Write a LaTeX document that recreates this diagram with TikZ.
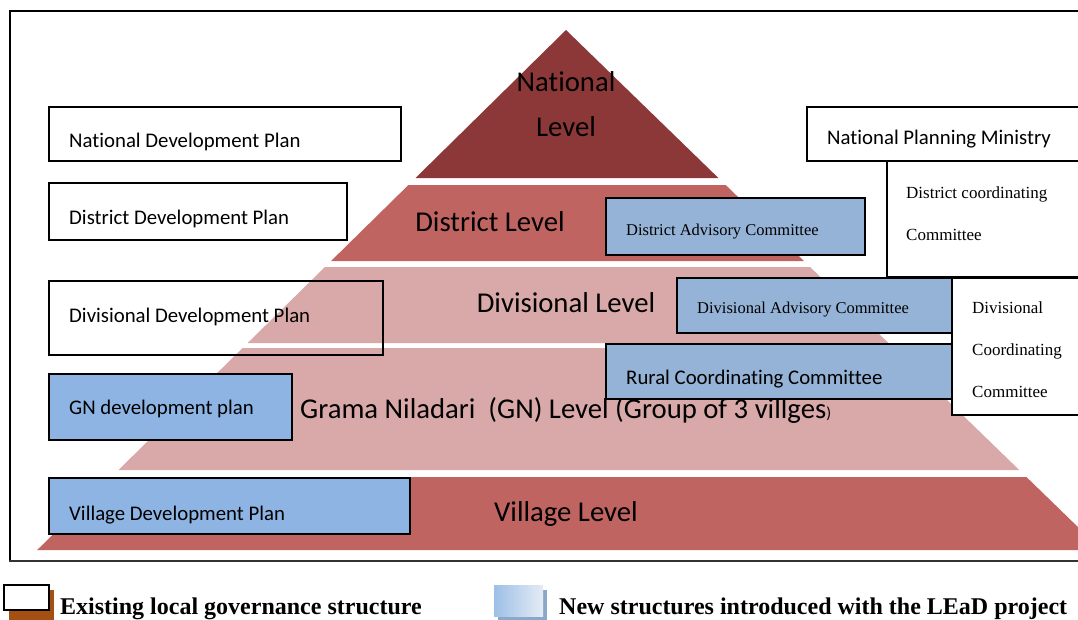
\documentclass[tikz,border=0pt]{standalone}
\usepackage{fontspec}
\setmainfont{Carlito}[RawFeature={-liga;-clig;-calt;-dlig}]
\newfontfamily\serifA{Liberation Serif}
\definecolor{natred}{RGB}{140,56,56}
\definecolor{disred}{RGB}{192,100,97}
\definecolor{pinkl}{RGB}{216,169,168}
\definecolor{blueA}{RGB}{141,180,226}
\definecolor{blueB}{RGB}{149,179,215}
\definecolor{shbrown}{RGB}{163,80,18}
\definecolor{shblue}{RGB}{140,168,200}
\tikzset{
  boxw/.style={draw=black, line width=1.8pt, fill=white, inner sep=0pt, anchor=north west},
  boxo/.style={draw=black, line width=1.8pt, inner sep=0pt, anchor=north west},
  boxa/.style={draw=black, line width=1.8pt, fill=blueA, inner sep=0pt, anchor=north west},
  boxb/.style={draw=black, line width=1.8pt, fill=blueB, inner sep=0pt, anchor=north west},
  lvl/.style={inner sep=0pt, font=\fontsize{28.7}{30}\selectfont},
  stxt/.style={inner sep=0pt, anchor=base west, font=\fontsize{20.8}{24}\selectfont},
  rtxt/.style={inner sep=0pt, anchor=base west, font=\serifA\fontsize{16.5}{20}\selectfont},
  ctxt/.style={inner sep=0pt, anchor=base west, font=\serifA\fontsize{17}{20}\selectfont},
  legtxt/.style={inner sep=0pt, anchor=base west, font=\serifA\bfseries\fontsize{24}{28}\selectfont},
}
\begin{document}
\begin{tikzpicture}[x=1pt,y=-1pt]
\useasboundingbox (0,0) rectangle (1078,619);
\clip (0,0) rectangle (1078,619);
\fill[white] (0,0) rectangle (1078,619);
% pyramid
\fill[natred] (566,30) -- (718.4,178) -- (415.5,178) -- cycle;
\fill[disred] (408.4,185) -- (725.7,185) -- (803.9,261) -- (331.1,261) -- cycle;
\fill[pinkl] (325.0,267) -- (810.1,267) -- (888.4,343) -- (247.7,343) -- cycle;
\fill[pinkl] (242.6,348) -- (893.5,348) -- (1019.2,470) -- (118.5,470) -- cycle;
\fill[disred] (111.4,477) -- (1026.4,477) -- (1101.6,550) -- (37.2,550) -- cycle;
% frame
\draw[line width=1.5pt] (1100,11) -- (10,11) -- (10,561);
\draw[line width=2.6pt, black!80] (9.3,561) -- (1100,561);
% level labels
\node[lvl] (natl1) at (566,82) {National};
\node[lvl] (natl2) at (566,127) {Level};
\node[lvl] (distl) at (490,222) {District Level};
\node[lvl] (divl) at (566,303) {Divisional Level};
\node[lvl, anchor=base west] (gnl) at (300,418) {Grama Niladari\ \ (GN) Level (Group of 3 villges\fontsize{16}{18}\selectfont)};
\node[lvl] (vill) at (566,514) {Village Level};
% left boxes
\node[boxw, minimum width=352pt, minimum height=54pt] (ndp) at (48,106) {};
\node[stxt] (ndpt) at (69,147) {National Development Plan};
\node[boxw, minimum width=298pt, minimum height=57pt] (ddp) at (48,182) {};
\node[stxt] (ddpt) at (69,224) {District Development Plan};
\node[boxo, minimum width=334pt, minimum height=74pt] (vdp) at (48,280) {};
\node[stxt] (vdpt) at (69,322) {Divisional Development\ Plan};
\node[boxa, minimum width=243pt, minimum height=66pt] (gnp) at (48,373) {};
\node[stxt] (gnpt) at (69,414) {GN development plan};
\node[boxa, minimum width=361pt, minimum height=56pt] (vlp) at (48,477) {};
\node[stxt] (vlpt) at (69,520) {Village Development Plan};
% right boxes
\node[boxw, minimum width=300pt, minimum height=54pt] (npm) at (806,106) {};
\node[stxt] (npmt) at (827,144) {National Planning Ministry};
\node[boxw, minimum width=220pt, minimum height=116pt] (dcc) at (886,160) {};
\node[ctxt] (dcct1) at (906,198) {District coordinating};
\node[ctxt] (dcct2) at (906,240) {Committee};
\node[boxw, minimum width=160pt, minimum height=137pt] (dvcc) at (951,277) {};
\node[ctxt] (dvcct1) at (972,313) {Divisional};
\node[ctxt] (dvcct2) at (972,355) {Coordinating};
\node[ctxt] (dvcct3) at (972,397) {Committee};
\node[boxb, minimum width=259pt, minimum height=57pt] (dac) at (605,197) {};
\node[rtxt] (dact) at (626,235) {District Advisory Committee};
\node[boxb, minimum width=275pt, minimum height=55pt] (dvac) at (676,277) {};
\node[rtxt] (dvact) at (697,313) {Divisional Advisory\ Committee};
\node[boxb, minimum width=346pt, minimum height=55pt] (rcc) at (605,343) {};
\node[stxt] (rcct) at (626,384) {Rural Coordinating\ Committee};
% legend
\fill[shbrown] (9,590) rectangle (54,622);
\node[boxw, line width=2.2pt, minimum width=45pt, minimum height=25pt] (leg1) at (3,584) {};
\node[legtxt] (leg1t) at (60,614) {Existing local governance structure};
\fill[shblue] (498,590) rectangle (547,622);
\node[inner sep=0pt, anchor=north west, minimum width=49pt, minimum height=31pt,
      shading=axis, shading angle=135, left color=blueA!85, right color=blueB!25] (leg2) at (494,585) {};
\node[legtxt] (leg2t) at (559,614) {New structures introduced with the LEaD project};
\end{tikzpicture}
\end{document}
